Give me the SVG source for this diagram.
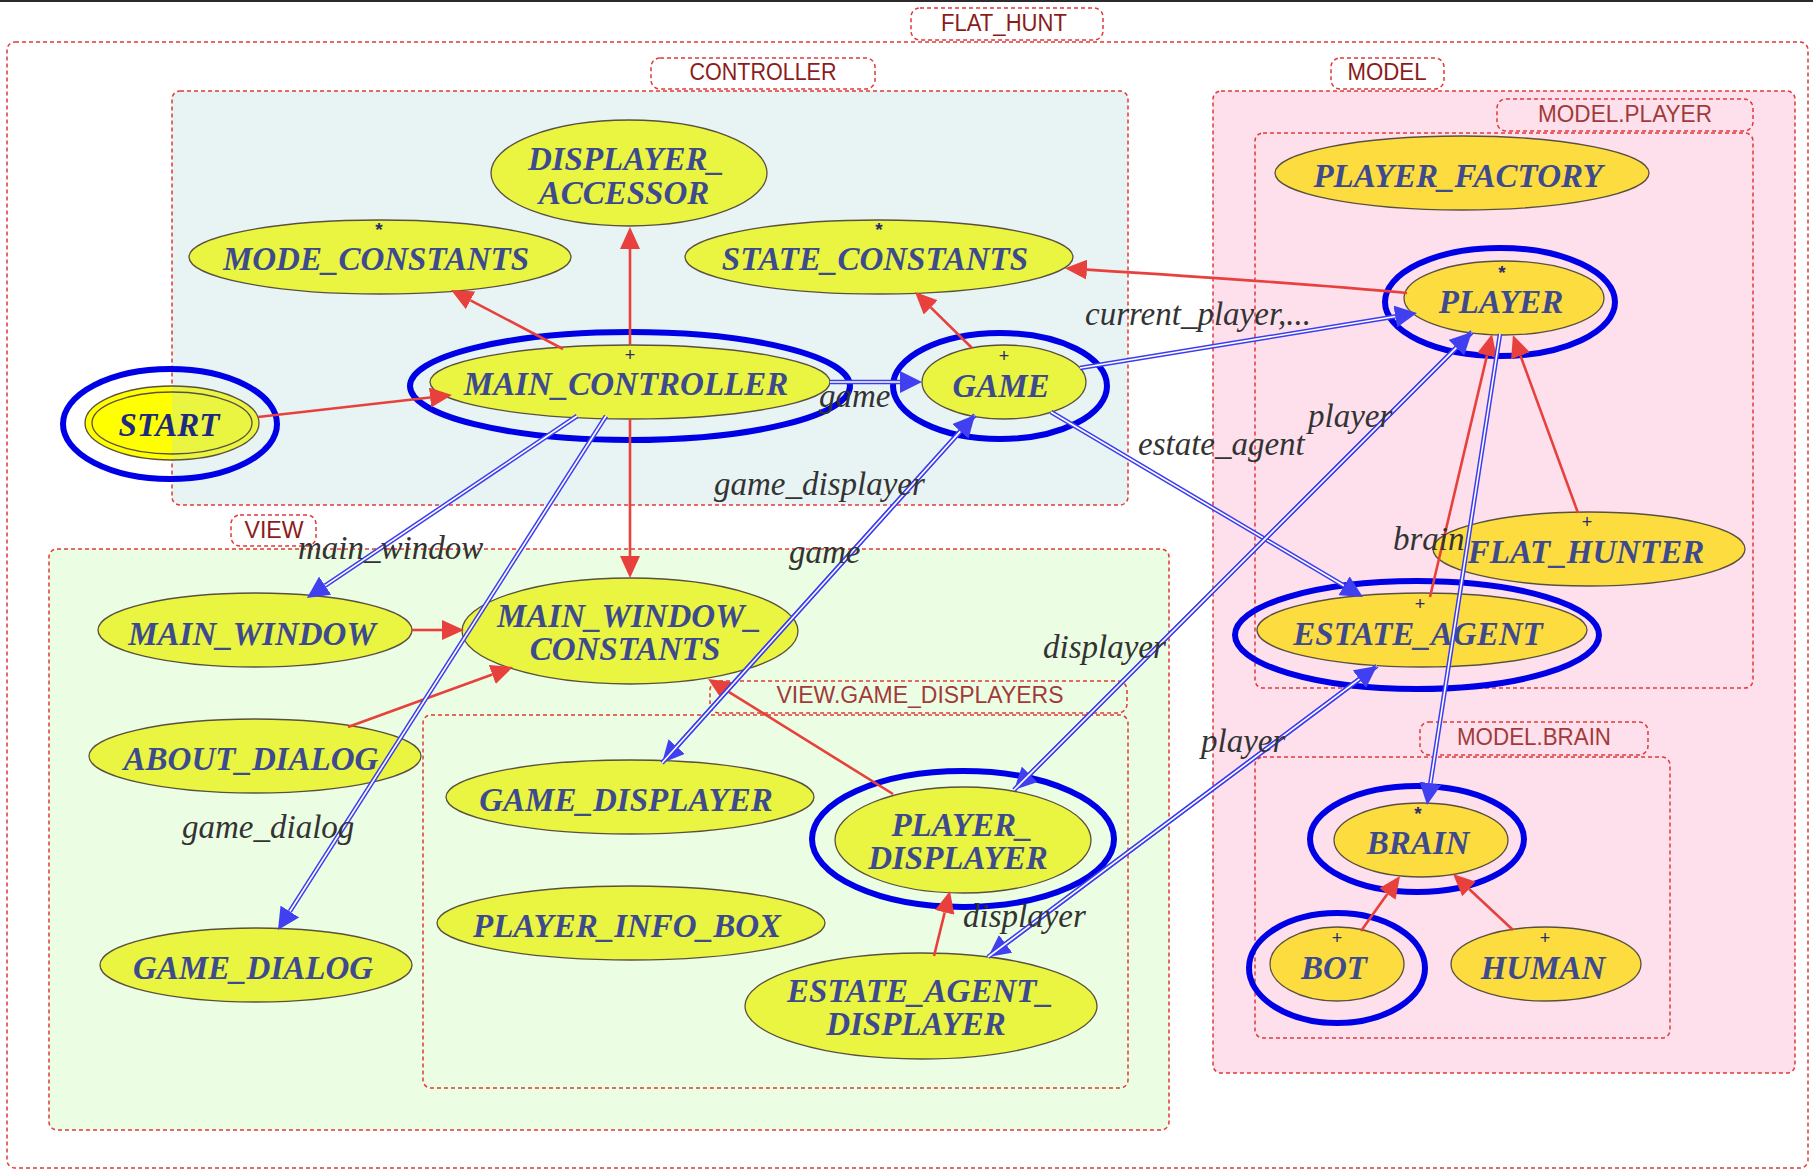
<svg xmlns="http://www.w3.org/2000/svg" width="1813" height="1171" viewBox="0 0 1813 1171">
<style>
.cl{stroke:#e03a3a;stroke-width:1.5;stroke-dasharray:4 3}
.lb{fill:none;stroke:#e03a3a;stroke-width:1.5;stroke-dasharray:4 3}
.clt{font-family:"Liberation Sans",Arial,sans-serif;font-size:23px;fill:#8b1c1c;text-anchor:middle}
.clt2{font-family:"Liberation Sans",Arial,sans-serif;font-size:23px;fill:#a23a3a;text-anchor:middle}
.n{stroke:#5a5040;stroke-width:1.3}
.nc{fill:#e9f540}
.nm{fill:#fddc3f}
.nt{font-family:"Liberation Serif","Times New Roman",serif;font-style:italic;font-weight:bold;font-size:33px;fill:#3d4a8e;text-anchor:middle}
.mk{font-family:"Liberation Sans",Arial,sans-serif;font-size:18px;fill:#2a2a70;text-anchor:middle}
.st{font-family:"Liberation Sans",Arial,sans-serif;font-size:19px;font-weight:bold;fill:#2a2a70;text-anchor:middle}
.hl{fill:none;stroke:#0000e6;stroke-width:6}
.ih{fill:none;stroke:#e8403c;stroke-width:2.6}
.cb{fill:none;stroke:#3c3cf0;stroke-width:4.6}
.cw{fill:none;stroke:#ffffff;stroke-width:1.6}
.el{font-family:"Liberation Serif","Times New Roman",serif;font-style:italic;font-size:33px;fill:#333333}
</style>
<defs>
<marker id="ar" markerUnits="userSpaceOnUse" viewBox="0 0 22 20" markerWidth="22" markerHeight="20" refX="0" refY="10" orient="auto"><path d="M0,0 L22,10 L0,20 z" fill="#e8403c"/></marker>
<marker id="ab" markerUnits="userSpaceOnUse" viewBox="0 0 22 22" markerWidth="22" markerHeight="22" refX="0" refY="11" orient="auto"><path d="M0,0 L22,11 L0,22 z" fill="#4040f0"/></marker>
<linearGradient id="startfill" gradientUnits="userSpaceOnUse" x1="85" y1="0" x2="258" y2="0">
<stop offset="0.503" stop-color="#ffff00"/><stop offset="0.503" stop-color="#e9f540"/>
</linearGradient>
</defs>
<rect x="0" y="0" width="1813" height="1171" fill="#ffffff"/>
<rect x="0" y="0" width="1813" height="2" fill="#2b2b2b"/>

<g id="clusters">
<g id="cluster_flat_hunt">
<rect class="cl" x="7" y="42" width="1801" height="1126" rx="8" fill="none"/>
<rect class="lb" x="911" y="8" width="192" height="32" rx="9"/>
<text class="clt" x="1004" y="31" textLength="126" lengthAdjust="spacingAndGlyphs">FLAT_HUNT</text>
</g>
<g id="cluster_controller">
<rect class="cl" x="172" y="91" width="956" height="414" rx="8" fill="#e7f4f3"/>
<rect class="lb" x="651" y="58" width="224" height="31" rx="9"/>
<text class="clt" x="763" y="80" textLength="147" lengthAdjust="spacingAndGlyphs">CONTROLLER</text>
</g>
<g id="cluster_model">
<rect class="cl" x="1213" y="91" width="582" height="982" rx="8" fill="#fde0ec"/>
<rect class="lb" x="1331" y="58" width="113" height="31" rx="9"/>
<text class="clt" x="1387" y="80" textLength="79" lengthAdjust="spacingAndGlyphs">MODEL</text>
</g>
<g id="cluster_model_player">
<rect class="cl" x="1255" y="133" width="498" height="555" rx="8" fill="#fde0ec"/>
<rect class="lb" x="1497" y="99" width="256" height="32" rx="9"/>
<text class="clt2" x="1625" y="122" textLength="174" lengthAdjust="spacingAndGlyphs">MODEL.PLAYER</text>
</g>
<g id="cluster_model_brain">
<rect class="cl" x="1255" y="757" width="415" height="281" rx="8" fill="#fde0ec"/>
<rect class="lb" x="1420" y="722" width="228" height="33" rx="9"/>
<text class="clt2" x="1534" y="745" textLength="154" lengthAdjust="spacingAndGlyphs">MODEL.BRAIN</text>
</g>
<g id="cluster_view">
<rect class="cl" x="49" y="549" width="1120" height="581" rx="8" fill="#ebfde2"/>
<rect class="lb" x="231" y="515" width="85" height="31" rx="9"/>
<text class="clt" x="274" y="538" textLength="59" lengthAdjust="spacingAndGlyphs">VIEW</text>
</g>
<g id="cluster_view_game_displayers">
<rect class="cl" x="423" y="715" width="705" height="373" rx="8" fill="#ebfde2"/>
<rect class="lb" x="710" y="681" width="417" height="32" rx="9"/>
<text class="clt2" x="920" y="703" textLength="287" lengthAdjust="spacingAndGlyphs">VIEW.GAME_DISPLAYERS</text>
</g>
</g>

<g id="nodes">
<g id="DISPLAYER_ACCESSOR"><ellipse class="n nc" cx="629" cy="173" rx="138" ry="53"/><text class="nt" x="626" y="170">DISPLAYER_</text><text class="nt" x="624" y="204">ACCESSOR</text></g>
<g id="MODE_CONSTANTS"><ellipse class="n nc" cx="380" cy="257" rx="191" ry="37"/><text class="st" x="379" y="236">*</text><text class="nt" x="376" y="270">MODE_CONSTANTS</text></g>
<g id="STATE_CONSTANTS"><ellipse class="n nc" cx="879" cy="257" rx="194" ry="37"/><text class="st" x="879" y="236">*</text><text class="nt" x="875" y="270">STATE_CONSTANTS</text></g>
<g id="MAIN_CONTROLLER"><ellipse class="n nc" cx="630" cy="382" rx="200" ry="37"/><text class="mk" x="630" y="361">+</text><text class="nt" x="626" y="395">MAIN_CONTROLLER</text></g>
<g id="START"><ellipse class="n" fill="url(#startfill)" cx="172" cy="423" rx="87" ry="37"/><ellipse fill="none" class="n" cx="172" cy="423" rx="80" ry="31"/><text class="nt" x="169" y="436" style="fill:#1e2a7e">START</text></g>
<g id="GAME"><ellipse class="n nc" cx="1004" cy="382" rx="82" ry="37"/><text class="mk" x="1004" y="362">+</text><text class="nt" x="1001" y="397">GAME</text></g>
<g id="PLAYER_FACTORY"><ellipse class="n nm" cx="1462" cy="173" rx="187" ry="37"/><text class="nt" x="1458" y="187">PLAYER_FACTORY</text></g>
<g id="PLAYER"><ellipse class="n nm" cx="1504" cy="298" rx="100" ry="37"/><text class="st" x="1502" y="279">*</text><text class="nt" x="1501" y="313">PLAYER</text></g>
<g id="FLAT_HUNTER"><ellipse class="n nm" cx="1589" cy="549" rx="156" ry="37"/><text class="mk" x="1587" y="528">+</text><text class="nt" x="1586" y="563">FLAT_HUNTER</text></g>
<g id="ESTATE_AGENT"><ellipse class="n nm" cx="1422" cy="630" rx="165" ry="37"/><text class="mk" x="1420" y="610">+</text><text class="nt" x="1418" y="645">ESTATE_AGENT</text></g>
<g id="BRAIN"><ellipse class="n nm" cx="1421" cy="840" rx="87" ry="37"/><text class="st" x="1418" y="820">*</text><text class="nt" x="1418" y="854">BRAIN</text></g>
<g id="BOT"><ellipse class="n nm" cx="1337" cy="964" rx="67" ry="37"/><text class="mk" x="1337" y="944">+</text><text class="nt" x="1334" y="979">BOT</text></g>
<g id="HUMAN"><ellipse class="n nm" cx="1546" cy="964" rx="95" ry="37"/><text class="mk" x="1545" y="944">+</text><text class="nt" x="1543" y="979">HUMAN</text></g>
<g id="MAIN_WINDOW"><ellipse class="n nc" cx="255" cy="630" rx="157" ry="37"/><text class="nt" x="252" y="645">MAIN_WINDOW</text></g>
<g id="MAIN_WINDOW_CONSTANTS"><ellipse class="n nc" cx="630" cy="631" rx="168" ry="53"/><text class="nt" x="629" y="627">MAIN_WINDOW_</text><text class="nt" x="625" y="660">CONSTANTS</text></g>
<g id="ABOUT_DIALOG"><ellipse class="n nc" cx="255" cy="756" rx="166" ry="37"/><text class="nt" x="251" y="770">ABOUT_DIALOG</text></g>
<g id="GAME_DIALOG"><ellipse class="n nc" cx="256" cy="965" rx="156" ry="37"/><text class="nt" x="253" y="979">GAME_DIALOG</text></g>
<g id="GAME_DISPLAYER"><ellipse class="n nc" cx="630" cy="797" rx="184" ry="37"/><text class="nt" x="626" y="811">GAME_DISPLAYER</text></g>
<g id="PLAYER_INFO_BOX"><ellipse class="n nc" cx="631" cy="923" rx="194" ry="37"/><text class="nt" x="627" y="937">PLAYER_INFO_BOX</text></g>
<g id="PLAYER_DISPLAYER"><ellipse class="n nc" cx="963" cy="840" rx="128" ry="53"/><text class="nt" x="962" y="836">PLAYER_</text><text class="nt" x="958" y="869">DISPLAYER</text></g>
<g id="ESTATE_AGENT_DISPLAYER"><ellipse class="n nc" cx="921" cy="1006" rx="176" ry="53"/><text class="nt" x="920" y="1002">ESTATE_AGENT_</text><text class="nt" x="916" y="1035">DISPLAYER</text></g>
</g>

<g id="highlights">
<ellipse class="hl" cx="170" cy="424" rx="107" ry="55"/>
<ellipse class="hl" cx="630" cy="386" rx="220" ry="54"/>
<ellipse class="hl" cx="1000" cy="386" rx="107" ry="53"/>
<ellipse class="hl" cx="1500" cy="302" rx="115" ry="54"/>
<ellipse class="hl" cx="1417" cy="635" rx="182" ry="54"/>
<ellipse class="hl" cx="1417" cy="839" rx="107" ry="53"/>
<ellipse class="hl" cx="1337" cy="968" rx="88" ry="55"/>
<ellipse class="hl" cx="963" cy="839" rx="151" ry="68"/>
</g>

<g id="connectors">
<g id="inheritance">
<path class="ih" d="M258,417 L430.1,397.5" marker-end="url(#ar)"/>
<path class="ih" d="M630,345 L630,249" marker-end="url(#ar)"/>
<path class="ih" d="M563,349 L470.5,300.3" marker-end="url(#ar)"/>
<path class="ih" d="M972,348 L930.7,307.4" marker-end="url(#ar)"/>
<path class="ih" d="M1407,293 Q1300,283 1086.9,269.6" marker-end="url(#ar)"/>
<path class="ih" d="M630,419 L630,556" marker-end="url(#ar)"/>
<path class="ih" d="M412,630 L442,630" marker-end="url(#ar)"/>
<path class="ih" d="M348,727 L492.3,674.5" marker-end="url(#ar)"/>
<path class="ih" d="M893,794 L726.7,690.6" marker-end="url(#ar)"/>
<path class="ih" d="M934,956 L944.7,912.4" marker-end="url(#ar)"/>
<path class="ih" d="M1430,597 L1487,355.4" marker-end="url(#ar)"/>
<path class="ih" d="M1578,513 L1520.5,355.7" marker-end="url(#ar)"/>
<path class="ih" d="M1361,931 L1387.3,894" marker-end="url(#ar)"/>
<path class="ih" d="M1513,930 L1469.1,889" marker-end="url(#ar)"/>
</g>
<g id="client">
<g><path class="cb" d="M830,382 L900,382"/><path class="cw" d="M830,382 L900,382" marker-end="url(#ab)"/></g>
<g><path class="cb" d="M577,416 L325.2,585.7"/><path class="cw" d="M577,416 L325.2,585.7" marker-end="url(#ab)"/></g>
<g><path class="cb" d="M606,416 L289.8,911.5"/><path class="cw" d="M606,416 L289.8,911.5" marker-end="url(#ab)"/></g>
<g><path class="cb" d="M975,415 L676.7,746.6"/><path class="cw" d="M975,415 L676.7,746.6" marker-end="url(#ab)"/></g>
<g><path class="cb" d="M662,763 L960.3,431.4"/><path class="cw" d="M662,763 L960.3,431.4" marker-end="url(#ab)"/></g>
<g><path class="cb" d="M1080,368 L1395.3,316.5"/><path class="cw" d="M1080,368 L1395.3,316.5" marker-end="url(#ab)"/></g>
<g><path class="cb" d="M1051,412 L1344,585.8"/><path class="cw" d="M1051,412 L1344,585.8" marker-end="url(#ab)"/></g>
<g><path class="cb" d="M1472,332 L1029.6,774.4"/><path class="cw" d="M1472,332 L1029.6,774.4" marker-end="url(#ab)"/></g>
<g><path class="cb" d="M1014,790 L1456.4,347.6"/><path class="cw" d="M1014,790 L1456.4,347.6" marker-end="url(#ab)"/></g>
<g><path class="cb" d="M1377,666 L1005.6,943.8"/><path class="cw" d="M1377,666 L1005.6,943.8" marker-end="url(#ab)"/></g>
<g><path class="cb" d="M988,957 L1359.4,679.2"/><path class="cw" d="M988,957 L1359.4,679.2" marker-end="url(#ab)"/></g>
<g><path class="cb" d="M1500,334 L1430.4,783.3"/><path class="cw" d="M1500,334 L1430.4,783.3" marker-end="url(#ab)"/></g>
</g>
<g id="edge_labels">
<text class="el" x="819" y="407">game</text>
<text class="el" x="298" y="559">main_window</text>
<text class="el" x="182" y="838">game_dialog</text>
<text class="el" x="714" y="495">game_displayer</text>
<text class="el" x="789" y="563">game</text>
<text class="el" x="1085" y="325">current_player,...</text>
<text class="el" x="1138" y="455">estate_agent</text>
<text class="el" x="1308" y="427">player</text>
<text class="el" x="1043" y="658">displayer</text>
<text class="el" x="1201" y="752">player</text>
<text class="el" x="963" y="927">displayer</text>
<text class="el" x="1393" y="550">brain</text>
</g>
</g>
</svg>
